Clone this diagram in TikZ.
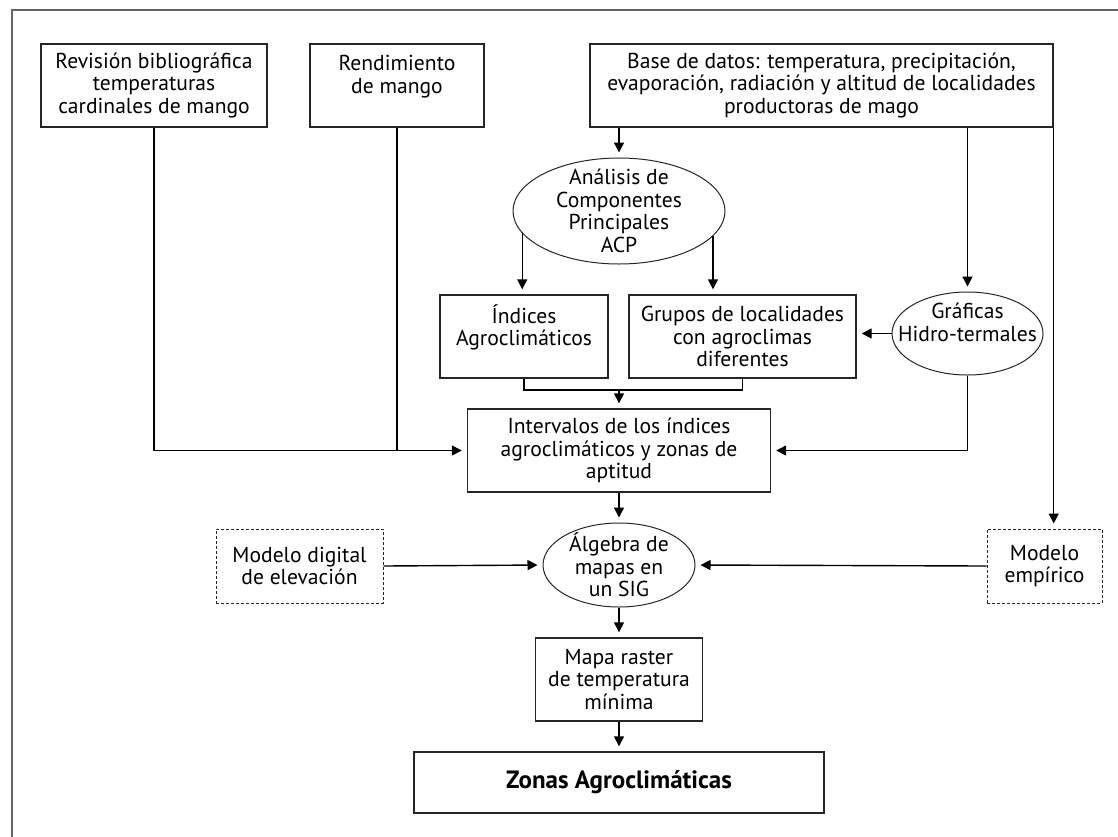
\documentclass[tikz,border=0pt]{standalone}
\usepackage{fontspec}
\setmainfont{PT Sans}
\usetikzlibrary{arrows.meta,shapes.geometric}

\tikzset{
  linea/.style={line width=0.7pt},
  caja/.style={draw=black!85, line width=0.7pt, align=center, inner sep=0pt},
  punteada/.style={draw=black!85, line width=0.5pt, dash pattern=on 1.5pt off 1pt, align=center, inner sep=0pt},
  ovalo/.style={ellipse, draw=black!85, line width=0.5pt, align=center, inner sep=-40pt},
  flecha/.style={linea, -{Triangle[length=5pt,width=5pt]}, shorten >=2.5pt}
}

\begin{document}
\begin{tikzpicture}[x=0.5pt, y=-0.5pt, font=\fontsize{10.8}{11.3}\selectfont]
\useasboundingbox (0,0) rectangle (1118,836);
\draw[black!60, line width=1pt] (12,840) -- (12,10) -- (1122,10);

% fila superior
\node[caja, minimum width=113pt, minimum height=41.5pt] (rev) at (154,85.5) {Revisión bibliográfica\\temperaturas\\cardinales de mango};
\node[caja, minimum width=87pt, minimum height=41.5pt] (rend) at (397,85.5) {Rendimiento\\de mango\\\mbox{}};
\node[caja, minimum width=231.5pt, minimum height=41.5pt] (bd) at (821.5,85.5) {Base de datos: temperatura, precipitación,\\evaporación, radiación y altitud de localidades\\productoras de mago};

% analisis
\node[ovalo, minimum width=106pt, minimum height=53pt] (acp) at (619,211) {Análisis de\\Componentes\\Principales\\ACP};
\node[caja, minimum width=84pt, minimum height=41.5pt] (ind) at (524,336.5) {Índices\\Agroclimáticos\\\mbox{}};
\node[caja, minimum width=113.5pt, minimum height=41.5pt] (grp) at (742.5,336.5) {Grupos de localidades\\con agroclimas\\diferentes};
\node[ovalo, minimum width=75.5pt, minimum height=41.5pt] (gra) at (967.5,333.5) {Gráficas\\Hidro-termales\\\mbox{}};
\node[caja, minimum width=151.5pt, minimum height=41.5pt] (int) at (619,450.5) {Intervalos de los índices\\agroclimáticos y zonas de\\aptitud};

% SIG
\node[punteada, minimum width=83.5pt, minimum height=37pt] (mde) at (299.5,566) {Modelo digital\\de elevación};
\node[ovalo, minimum width=76pt, minimum height=42pt] (alg) at (619,565) {Álgebra de\\mapas en\\un SIG};
\node[punteada, minimum width=57.5pt, minimum height=37pt] (emp) at (1044.5,566) {Modelo\\empírico};
\node[caja, minimum width=83.5pt, minimum height=41.5pt] (map) at (619,679.5) {Mapa raster\\de temperatura\\mínima};
\node[caja, minimum width=205pt, minimum height=30.5pt, font=\fontsize{12.5}{13}\selectfont\bfseries] (zon) at (619,782.5) {Zonas Agroclimáticas};

\coordinate (junta) at (619,390);

\draw[flecha] (bd.south -| acp.north) -- (acp.north);
\draw[flecha] (acp.193) -- (acp.193 |- ind.north);
\draw[flecha] (acp.345) -- (acp.345 |- grp.north);
\draw[flecha] (bd.south -| gra.north) -- (gra.north);
\draw[flecha] (bd.south east) -- (bd.south east |- emp.north);
\draw[flecha] (gra.west) -- (gra.west -| grp.east);
\draw[linea] (ind.south) |- (junta) -| (grp.south);
\draw[flecha] (junta) -- (int.north);
\draw[flecha] (rev.south) |- (int.west);
\draw[linea] (rend.south) -- (rend.south |- int.west);
\draw[flecha] (gra.south) |- (int.east);
\draw[flecha] (int.south) -- (alg.north);
\draw[flecha] (mde.east) -- (alg.west);
\draw[flecha] (emp.west) -- (alg.east);
\draw[flecha] (alg.south) -- (map.north);
\draw[flecha] (map.south) -- (zon.north);

\end{tikzpicture}
\end{document}
